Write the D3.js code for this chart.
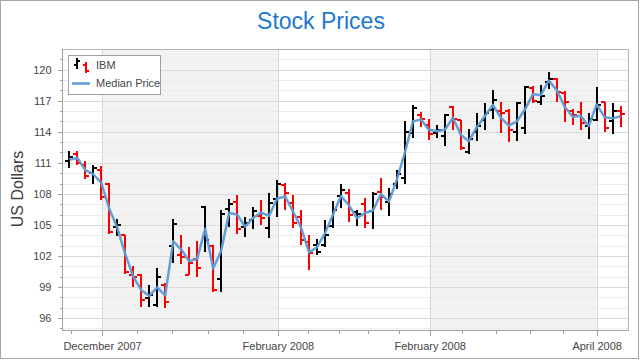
<!DOCTYPE html>
<html><head><meta charset="utf-8">
<script src="https://cdn.jsdelivr.net/npm/d3@7/dist/d3.min.js"></script>
<style>body{margin:0;background:#fff} svg{display:block} text{font-family:"Liberation Sans",Arial,sans-serif}</style>
</head><body><svg id="c" width="640" height="360"></svg>
<script>
// ---- data ----
const openP  = [111.2,111.85,110.8,110.0,110.3,109.0,104.85,104.0,100.2,100.15,97.9,97.25,99.2,103.0,102.1,100.2,101.7,106.75,103.0,99.75,106.5,107.25,104.8,105.5,105.9,104.7,107.5,108.85,107.1,105.8,103.4,103.1,103.1,104.9,107.8,108.1,106.25,107.0,106.3,108.2,107.2,109.0,109.5,113.9,115.6,114.7,113.9,113.6,116.4,115.1,112.0,114.0,115.15,116.1,116.0,116.0,114.0,114.4,118.2,116.9,118.8,119.1,117.75,116.0,115.9,114.6,115.15,116.85,115.0,116.05];
const highP  = [112.1,112.15,111.2,110.8,110.7,109.05,105.55,104.05,101.0,100.3,99.2,100.85,99.4,105.55,104.05,102.85,103.45,106.85,103.05,106.45,107.5,107.9,105.8,106.75,107.4,108.05,109.3,109.05,107.9,106.45,104.05,103.6,105.5,107.3,109.0,108.5,106.4,107.6,108.2,109.5,108.6,110.3,115.0,116.6,115.9,115.2,114.7,115.75,116.5,115.15,114.3,115.8,116.8,118.0,116.85,116.2,116.9,118.45,118.45,118.5,119.8,119.15,117.9,116.2,116.85,115.8,118.3,116.85,116.8,116.5];
const lowP   = [110.5,110.8,109.4,109.0,107.4,104.1,103.9,100.3,99.0,97.1,97.1,97.1,97.0,101.3,101.2,100.15,100.0,102.4,98.55,98.55,104.85,104.1,103.85,104.6,105.0,103.7,105.8,106.45,104.7,103.05,100.65,102.1,102.9,104.7,106.6,105.3,104.9,104.7,104.6,106.45,105.9,108.5,109.0,113.4,114.5,113.2,113.4,112.65,114.2,112.25,111.9,113.1,114.2,115.2,113.9,113.0,113.1,113.8,116.8,116.6,118.1,116.9,114.9,114.7,114.2,113.3,115.0,113.95,113.8,114.5];
const closeP = [111.55,110.95,109.7,110.55,107.7,104.3,105.0,100.5,100.0,97.75,98.2,100.0,97.6,105.05,101.9,101.3,100.8,103.5,98.7,106.1,107.0,104.6,105.2,106.3,105.7,107.15,109.0,108.05,105.15,103.55,102.25,102.4,104.0,106.4,108.4,106.0,106.1,105.15,107.95,107.7,108.0,109.9,114.0,116.3,115.2,113.8,114.2,115.6,115.2,112.4,113.3,114.6,115.8,117.1,115.8,114.2,116.8,118.3,117.0,117.5,119.1,117.85,116.9,115.6,114.85,115.2,116.6,114.35,116.05,115.75];
const yTicks = [96,99,102,105,108,111,114,117,120];
const yMinor = [95,97,98,100,101,103,104,106,107,109,110,112,113,115,116,118,119,121];
const xTickPos = [4.09,26.1,45.1,66.0];
const xTickLabels = ["December 2007","February 2008","February 2008","April 2008"];
const xMinorPos = [0.18,8.5,12.9,17.3,21.7,29.9,33.7,37.4,41.2,49.2,53.4,57.6,61.8];
const seriesNames = ["IBM","Median Price"];

const data = openP.map((o,i)=>({i, o, h:highP[i], l:lowP[i], c:closeP[i], m:(highP[i]+lowP[i])/2,
  down: i>0 && closeP[i] < closeP[i-1]}));

const svg = d3.select("#c");
const L=62, R=628, T=49, B=330;
const x = d3.scaleLinear().domain([-0.92, data.length-0.08]).range([L,R]);
const y = d3.scaleLinear().domain([94.85,122.0]).range([B,T]);

// outer border
svg.append("rect").attr("x",0.5).attr("y",0.5).attr("width",638).attr("height",358)
  .attr("fill","#fff").attr("stroke","#a6a6a6");

// title
svg.append("text").attr("x",321).attr("y",29).attr("text-anchor","middle")
  .attr("font-size",23).attr("fill","#1e78d2").text("Stock Prices");

// plot background + interlaced strips
svg.append("rect").attr("x",L).attr("y",T).attr("width",R-L).attr("height",B-T).attr("fill","#fff");
[[0,1],[2,3]].forEach(([a,b])=>{
  svg.append("rect").attr("x",x(xTickPos[a])).attr("y",T).attr("width",x(xTickPos[b])-x(xTickPos[a]))
    .attr("height",B-T).attr("fill","#f1f2f1");
});

// grid
const g = svg.append("g").attr("shape-rendering","crispEdges");
g.selectAll(".ymn").data(yMinor.filter(v=>y(v)>T && y(v)<B)).join("line")
  .attr("x1",L).attr("x2",R).attr("y1",d=>Math.round(y(d))+0.5).attr("y2",d=>Math.round(y(d))+0.5)
  .attr("stroke","#ececec");
g.selectAll(".ymj").data(yTicks).join("line")
  .attr("x1",L).attr("x2",R).attr("y1",d=>Math.round(y(d))+0.5).attr("y2",d=>Math.round(y(d))+0.5)
  .attr("stroke","#dadada");
g.selectAll(".xmj").data(xTickPos).join("line")
  .attr("y1",T).attr("y2",B).attr("x1",d=>Math.round(x(d))+0.5).attr("x2",d=>Math.round(x(d))+0.5)
  .attr("stroke","#dadada");

// plot border top/right
svg.append("path").attr("d",`M${L},${T+0.5}H${R+0.5}V${B}`).attr("fill","none").attr("stroke","#b4b4b4");

// axes
const axisColor="#a0a0a0", labelColor="#454545";
const yAx = svg.append("g").attr("transform",`translate(${L+0.5},0)`)
  .call(d3.axisLeft(y).tickValues(yTicks).tickSize(5).tickPadding(6).tickFormat(d3.format("d")));
const yAxMinor = svg.append("g").attr("transform",`translate(${L+0.5},0)`)
  .call(d3.axisLeft(y).tickValues(yMinor).tickSize(3).tickFormat(""));
const xAx = svg.append("g").attr("transform",`translate(0,${B+0.5})`)
  .call(d3.axisBottom(x).tickValues(xTickPos).tickSize(5).tickPadding(6.7).tickFormat((d,i)=>xTickLabels[i]));
const xAxMinor = svg.append("g").attr("transform",`translate(0,${B+0.5})`)
  .call(d3.axisBottom(x).tickValues(xMinorPos).tickSize(3).tickFormat(""));
[yAx,yAxMinor,xAx,xAxMinor].forEach(a=>{
  a.select(".domain").remove();
  a.selectAll(".tick line").attr("stroke",axisColor).attr("shape-rendering","crispEdges");
  a.selectAll("text").attr("fill",labelColor).attr("font-size",11)
   .attr("font-family",'"Liberation Sans",Arial,sans-serif');
});
svg.append("path").attr("d",`M${L+0.5},${T}V${B+0.5}H${R+0.5}`).attr("fill","none")
  .attr("stroke",axisColor).attr("shape-rendering","crispEdges");

// y axis title
svg.append("text").attr("transform","translate(23,189) rotate(-90)").attr("text-anchor","middle")
  .attr("font-size",16).attr("fill","#404040").text("US Dollars");

// OHLC bars
const bars = svg.append("g").attr("shape-rendering","crispEdges");
const bg = bars.selectAll("g").data(data).join("g")
  .attr("stroke",d=>d.down?"#ff0000":"#000000").attr("stroke-width",2);
bg.append("line").attr("x1",d=>Math.round(x(d.i))).attr("x2",d=>Math.round(x(d.i)))
  .attr("y1",d=>y(d.h)).attr("y2",d=>y(d.l));
bg.append("line").attr("x1",d=>Math.round(x(d.i))-4).attr("x2",d=>Math.round(x(d.i)))
  .attr("y1",d=>y(d.o)).attr("y2",d=>y(d.o));
bg.append("line").attr("x1",d=>Math.round(x(d.i))).attr("x2",d=>Math.round(x(d.i))+4)
  .attr("y1",d=>y(d.c)).attr("y2",d=>y(d.c));

// median price line
svg.append("path").datum(data).attr("fill","none").attr("stroke","#5b9bd5").attr("stroke-width",2.5)
  .attr("stroke-linejoin","round").attr("opacity",0.95)
  .attr("d",d3.line().x(d=>x(d.i)).y(d=>y(d.m)));

// legend
const lg = svg.append("g");
lg.append("rect").attr("x",68.5).attr("y",55.5).attr("width",92).attr("height",39)
  .attr("fill","#fff").attr("stroke","#a0a0a0").attr("shape-rendering","crispEdges");
const ic = lg.append("g").attr("shape-rendering","crispEdges").attr("stroke-width",2);
ic.append("path").attr("d","M77,58V69 M74,64.5H77 M77,61H80").attr("stroke","#000").attr("fill","none");
ic.append("path").attr("d","M86,62V73 M83,65H86 M86,70.5H89").attr("stroke","#ff0000").attr("fill","none");
lg.append("text").attr("x",96).attr("y",69).attr("font-size",11).attr("fill",labelColor).text(seriesNames[0]);
lg.append("line").attr("x1",72).attr("x2",90).attr("y1",83.5).attr("y2",83.5)
  .attr("stroke","#5b9bd5").attr("stroke-width",2.5);
lg.append("text").attr("x",96).attr("y",87).attr("font-size",11).attr("fill",labelColor).text(seriesNames[1]);
</script></body></html>
